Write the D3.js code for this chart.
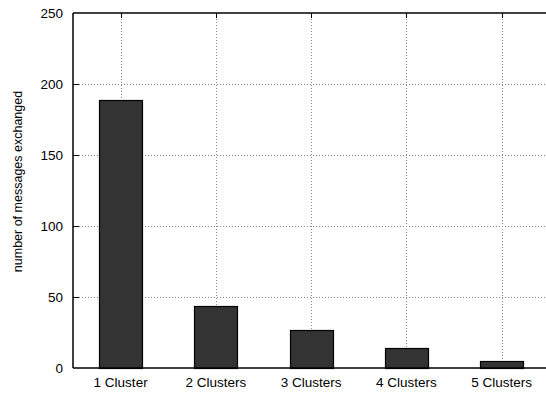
<!DOCTYPE html>
<html>
<head>
<meta charset="utf-8">
<script src="https://cdn.jsdelivr.net/npm/d3@7"></script>
<style>
  html, body { margin: 0; padding: 0; background: #fff; }
  svg { display: block; }
  text { font-family: "Liberation Sans", Arial, Helvetica, sans-serif; fill: #000; }
</style>
</head>
<body>
<script>
// Messages exchanged per cluster configuration
const categories = ["1 Cluster", "2 Clusters", "3 Clusters", "4 Clusters", "5 Clusters"];
const messages = [189, 44, 27, 14, 5];
const yTicks = [0, 50, 100, 150, 200, 250];
const yLabel = "number of messages exchanged";

const width = 546, height = 395;
const plot = { left: 73, top: 13, bottom: 368, right: 549.25 };

const svg = d3.select("body").append("svg")
  .attr("width", width)
  .attr("height", height);

const x = d3.scaleBand()
  .domain(categories)
  .range([plot.left, plot.right])
  .paddingInner(0.55)
  .paddingOuter(0.275);

const y = d3.scaleLinear()
  .domain([0, 250])
  .range([plot.bottom, plot.top]);

const center = c => x(c) + x.bandwidth() / 2;

// dotted grid
const grid = svg.append("g").attr("stroke", "#888").attr("stroke-width", 1)
  .attr("stroke-dasharray", "1,2");
grid.selectAll("line.h")
  .data(yTicks.filter(t => t > 0 && t < 250))
  .join("line")
  .attr("class", "h")
  .attr("x1", plot.left).attr("x2", width)
  .attr("y1", d => Math.round(y(d)) + 0.5).attr("y2", d => Math.round(y(d)) + 0.5);
grid.selectAll("line.v")
  .data(categories)
  .join("line")
  .attr("class", "v")
  .attr("x1", d => Math.round(center(d)) + 0.5).attr("x2", d => Math.round(center(d)) + 0.5)
  .attr("y1", plot.top).attr("y2", plot.bottom);

// bars
svg.append("g")
  .selectAll("rect")
  .data(categories.map((c, i) => ({ c, v: messages[i] })))
  .join("rect")
  .attr("x", d => Math.round(x(d.c)) + 0.5)
  .attr("y", d => Math.round(y(d.v)) + 0.5)
  .attr("width", Math.round(x.bandwidth()))
  .attr("height", d => Math.round(y(0)) - Math.round(y(d.v)))
  .attr("fill", "#333")
  .attr("stroke", "#000")
  .attr("stroke-width", 1.2);

// axes
const yAxis = d3.axisLeft(y).tickValues(yTicks).tickSize(0).tickPadding(10);
const gy = svg.append("g").attr("transform", `translate(${plot.left},0)`).call(yAxis);
gy.select(".domain").remove();
gy.selectAll("text").style("font-size", "13.5px")
  .style("font-family", "'Liberation Sans', Arial, sans-serif");

const xAxis = d3.axisBottom(x).tickSize(0).tickPadding(9);
const gx = svg.append("g").attr("transform", `translate(0,${plot.bottom})`).call(xAxis);
gx.select(".domain").remove();
gx.selectAll("text").style("font-size", "13.5px")
  .style("font-family", "'Liberation Sans', Arial, sans-serif");

// inward tick marks
const ticks = svg.append("g").attr("stroke", "#000").attr("stroke-width", 1);
ticks.selectAll("line.yt")
  .data(yTicks.filter(t => t > 0 && t < 250))
  .join("line")
  .attr("x1", plot.left).attr("x2", plot.left + 6)
  .attr("y1", d => Math.round(y(d)) + 0.5).attr("y2", d => Math.round(y(d)) + 0.5);
ticks.selectAll("line.xt")
  .data(categories)
  .join("line")
  .attr("x1", d => Math.round(center(d)) + 0.5).attr("x2", d => Math.round(center(d)) + 0.5)
  .attr("y1", plot.top).attr("y2", plot.top + 5);

// frame: left, top, bottom
const frame = svg.append("g").attr("stroke", "#000").attr("stroke-width", 1.5).attr("fill", "none");
frame.append("line").attr("x1", plot.left).attr("x2", plot.left).attr("y1", plot.top).attr("y2", plot.bottom);
frame.append("line").attr("x1", plot.left).attr("x2", width).attr("y1", plot.top).attr("y2", plot.top);
frame.append("line").attr("x1", plot.left).attr("x2", width).attr("y1", plot.bottom).attr("y2", plot.bottom);

// y axis title
svg.append("text")
  .attr("transform", `translate(18,${(plot.top + plot.bottom) / 2 - 9}) rotate(-90)`)
  .attr("text-anchor", "middle")
  .attr("dy", "0.35em")
  .style("font-size", "12.5px")
  .text(yLabel);
</script>
</body>
</html>
